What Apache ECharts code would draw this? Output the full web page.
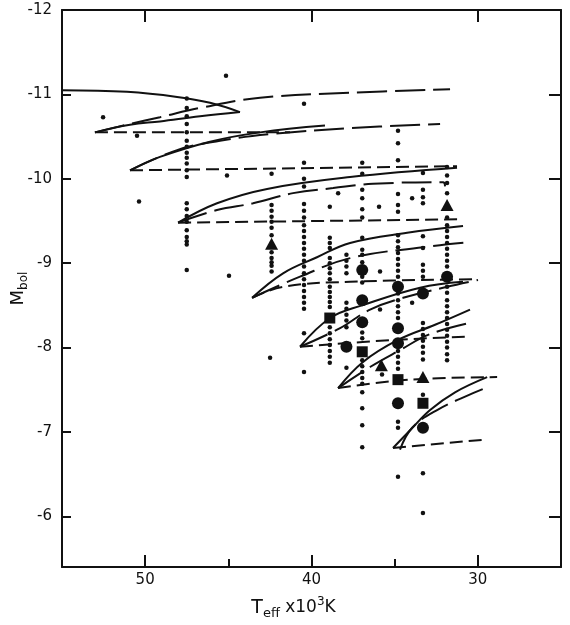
<!DOCTYPE html>
<html><head><meta charset="utf-8">
<script src="https://cdn.jsdelivr.net/npm/echarts@6/dist/echarts.min.js"></script>
<style>html,body{margin:0;padding:0;background:#fff}#c{width:570px;height:625px}</style>
</head><body><div id="c"></div>
<script>
// ---- axis ticks ----
const xMajorTicks = [30, 40, 50];
const xMinorTicks = [35, 45];
const yTicks = [-12, -11, -10, -9, -8, -7, -6];

// ---- evolutionary tracks [Teff (10^3 K), Mbol] ----
const track1SolidUpper = [[55.0,-11.05],[51.09,-11.03],[48.08,-10.97],[46.10,-10.90],[44.30,-10.79]];
const track1SolidLower = [[44.30,-10.79],[46.70,-10.74],[49.11,-10.68],[50.91,-10.64],[53.02,-10.55]];
const track1Long = [[53.02,-10.55],[50.91,-10.65],[49.11,-10.73],[46.70,-10.84],[43.09,-10.96],[37.68,-11.02],[31.67,-11.06]];
const track1Short = [[53.02,-10.55],[41.29,-10.55]];

const track2Solid = [[50.91,-10.10],[49.11,-10.26],[46.10,-10.44],[43.09,-10.55],[39.19,-10.63]];
const track2Long = [[50.91,-10.10],[48.08,-10.34],[45.50,-10.45],[42.49,-10.53],[37.68,-10.60],[32.27,-10.65]];
const track2Short = [[50.91,-10.10],[31.25,-10.15]];

const track3Solid = [[48.02,-9.48],[45.68,-9.71],[42.67,-9.88],[37.68,-10.02],[31.25,-10.13]];
const track3Long = [[48.02,-9.48],[45.68,-9.63],[43.51,-9.71],[41.11,-9.83],[38.70,-9.89],[36.30,-9.94],[32.09,-9.96],[31.97,-9.91]];
const track3Short = [[48.02,-9.48],[30.95,-9.52]];

const track4Solid = [[43.57,-8.59],[41.71,-8.88],[39.67,-9.07],[37.68,-9.24],[34.25,-9.36],[30.89,-9.44]];
const track4Long = [[43.57,-8.59],[40.69,-8.84],[37.68,-9.06],[33.29,-9.19],[30.47,-9.25]];
const track4Short = [[43.57,-8.59],[41.71,-8.72],[37.68,-8.78],[30.05,-8.81]];

const track5Solid = [[40.69,-8.01],[38.88,-8.35],[36.96,-8.50],[33.47,-8.71],[30.89,-8.78]];
const track5Long = [[40.69,-8.01],[38.28,-8.23],[36.48,-8.45],[34.49,-8.59],[31.85,-8.72],[29.99,-8.80]];
const track5Short = [[40.69,-8.01],[35.10,-8.09],[30.47,-8.13]];

const track6Solid = [[38.40,-7.52],[36.90,-7.83],[34.80,-8.09],[32.57,-8.27],[30.47,-8.45]];
const track6Long = [[38.40,-7.52],[36.48,-7.77],[34.68,-7.97],[32.87,-8.16],[30.29,-8.30]];
const track6Short = [[38.40,-7.52],[34.07,-7.62],[28.84,-7.65]];

const track7Solid = [[35.10,-6.81],[34.07,-7.02],[32.87,-7.26],[31.37,-7.47],[29.44,-7.65]];
const track7Long = [[34.68,-6.79],[33.95,-7.05],[32.45,-7.26],[30.29,-7.46],[29.56,-7.52]];
const track7Short = [[35.10,-6.81],[29.56,-6.91]];

// ---- small dots: columns at fixed Teff ----
const colTeff = [47.5, 42.4, 40.45, 38.9, 37.9, 36.95, 34.8, 33.3, 31.85];
const colA = [-10.95,-10.84,-10.74,-10.65,-10.55,-10.45,-10.38,-10.31,-10.25,-10.18,-10.10,-10.02,-9.71,-9.64,-9.56,-9.49,-9.39,-9.31,-9.26,-9.22,-8.92];
const colB = [-10.06,-9.69,-9.62,-9.55,-9.49,-9.42,-9.33,-9.13,-9.06,-9.01,-8.97,-8.90];
const colC = [-10.89,-10.19,-10.00,-9.91,-9.70,-9.62,-9.54,-9.45,-9.38,-9.31,-9.24,-9.17,-9.10,-9.03,-8.96,-8.88,-8.81,-8.74,-8.67,-8.60,-8.53,-8.46,-8.17,-7.71];
const colD = [-9.67,-9.30,-9.24,-9.18,-9.06,-9.00,-8.94,-8.88,-8.81,-8.72,-8.66,-8.60,-8.54,-8.48,-8.24,-8.17,-8.10,-8.03,-7.96,-7.89,-7.82];
const colE = [-9.10,-9.03,-8.96,-8.88,-8.53,-8.46,-8.39,-8.32,-8.24,-7.76];
const colF = [-10.19,-10.06,-9.87,-9.77,-9.64,-9.54,-9.30,-9.16,-9.10,-9.01,-8.84,-8.77,-8.18,-8.11,-7.85,-7.78,-7.71,-7.64,-7.57,-7.47,-7.28,-7.08,-6.82];
const colG = [-10.57,-10.42,-10.22,-9.82,-9.69,-9.61,-9.33,-9.26,-9.19,-9.12,-9.05,-8.98,-8.91,-8.84,-8.64,-8.56,-8.49,-8.42,-8.35,-7.96,-7.89,-7.82,-7.75,-7.12,-7.05,-6.47];
const colH = [-10.07,-9.87,-9.78,-9.71,-9.32,-9.18,-8.98,-8.91,-8.84,-8.29,-8.22,-8.15,-8.08,-8.01,-7.94,-7.86,-7.44,-6.51,-6.04];
const colI = [-10.14,-10.04,-9.95,-9.83,-9.54,-9.45,-9.38,-9.31,-9.24,-9.17,-9.10,-9.03,-8.96,-8.72,-8.65,-8.56,-8.49,-8.42,-8.35,-8.28,-8.21,-8.14,-8.07,-8.00,-7.92,-7.85];
const looseDots = [[52.53,-10.73],[50.49,-10.51],[45.14,-11.22],[45.08,-10.04],[50.37,-9.73],[44.96,-8.85],[42.49,-7.88],[35.94,-9.67],[33.95,-9.77],[35.88,-8.90],[35.88,-8.45],[33.95,-8.53],[35.76,-7.68],[38.4,-9.83]];

// ---- large symbols ----
const circles = [[36.95,-8.92],[31.85,-8.84],[34.8,-8.72],[33.3,-8.64],[36.95,-8.56],[36.95,-8.30],[34.8,-8.23],[37.9,-8.01],[34.8,-8.05],[34.8,-7.34],[33.3,-7.05]];
const squares = [[38.9,-8.35],[36.95,-7.95],[34.8,-7.62],[33.3,-7.34]];
const triangles = [[42.4,-9.23],[31.85,-9.69],[35.8,-7.79],[33.3,-7.65]];

// ---- build ----
const INK = '#111111';
const LONG = [30, 8];
const SHORT = [13, 6];
function line(data, type, smooth) {
  return {
    type: 'line', data: data, showSymbol: false, symbol: 'none', silent: true,
    smooth: smooth === undefined ? 0.4 : smooth, animation: false, z: 2,
    lineStyle: { color: INK, width: 2, type: type, opacity: 1 }
  };
}
function scatter(data, symbol, size, z) {
  return { type: 'scatter', data: data, symbol: symbol, symbolSize: size,
    itemStyle: { color: INK, opacity: 1 }, z: z, animation: false, silent: true };
}
const cols = [colA, colB, colC, colD, colE, colF, colG, colH, colI];
const dots = [];
cols.forEach((c, i) => c.forEach(m => dots.push([colTeff[i], m])));
looseDots.forEach(p => dots.push(p));

const series = [
  line(track1SolidUpper, 'solid'), line(track1SolidLower, 'solid'), line(track1Long, LONG), line(track1Short, SHORT, false),
  line(track2Solid, 'solid'), line(track2Long, LONG), line(track2Short, SHORT, false),
  line(track3Solid, 'solid'), line(track3Long, LONG), line(track3Short, SHORT, false),
  line(track4Solid, 'solid'), line(track4Long, LONG), line(track4Short, SHORT),
  line(track5Solid, 'solid'), line(track5Long, LONG), line(track5Short, SHORT),
  line(track6Solid, 'solid'), line(track6Long, LONG), line(track6Short, SHORT),
  line(track7Solid, 'solid'), line(track7Long, LONG), line(track7Short, SHORT, false),
  scatter(dots, 'circle', 4.5, 3),
  scatter(circles, 'circle', 12, 4),
  scatter(squares, 'rect', 11, 4),
  scatter(triangles, 'triangle', [13, 12], 4)
];

const font = 'DejaVu Sans';
const axisLine = { show: true, onZero: false, lineStyle: { color: INK, width: 2 } };
const chart = echarts.init(document.getElementById('c'), null, { renderer: 'canvas' });
chart.setOption({
  backgroundColor: '#ffffff',
  animation: false,
  grid: { left: 62, right: 9, top: 10, bottom: 58, containLabel: false, outerBoundsMode: 'none' },
  xAxis: [
    { type: 'value', position: 'bottom', min: 25, max: 55, inverse: true,
      axisLine: axisLine, splitLine: { show: false },
      axisTick: { show: true, inside: true, length: 12, customValues: xMajorTicks, lineStyle: { color: INK, width: 2 } },
      axisLabel: { customValues: xMajorTicks, margin: 6, fontSize: 15, color: INK, fontFamily: font },
      name: '{t|T}{s|eff}{n| x10}{p|3}{n|K}', nameLocation: 'middle', nameGap: 29,
      nameTextStyle: { color: INK, fontFamily: font, padding: [0, 36, 0, 0], rich: {
        t: { fontSize: 19, fontFamily: font, color: INK, lineHeight: 24, verticalAlign: 'middle' },
        s: { fontSize: 13, fontFamily: font, color: INK, lineHeight: 24, verticalAlign: 'bottom' },
        n: { fontSize: 17, fontFamily: font, color: INK, lineHeight: 24, verticalAlign: 'middle' },
        p: { fontSize: 12, fontFamily: font, color: INK, lineHeight: 24, verticalAlign: 'top' }
      } } },
    { type: 'value', position: 'bottom', min: 25, max: 55, inverse: true,
      axisLine: { show: false }, splitLine: { show: false }, axisLabel: { show: false },
      axisTick: { show: true, inside: true, length: 8, customValues: xMinorTicks, lineStyle: { color: INK, width: 2 } } },
    { type: 'value', position: 'top', min: 25, max: 55, inverse: true,
      axisLine: axisLine, splitLine: { show: false }, axisLabel: { show: false },
      axisTick: { show: true, inside: true, length: 12, customValues: xMajorTicks, lineStyle: { color: INK, width: 2 } } }
  ],
  yAxis: [
    { type: 'value', position: 'left', min: -12, max: -5.4, inverse: true,
      axisLine: axisLine, splitLine: { show: false },
      axisTick: { show: true, inside: true, length: 9, customValues: yTicks, lineStyle: { color: INK, width: 2 } },
      axisLabel: { customValues: yTicks, margin: 10, fontSize: 15, color: INK, fontFamily: font },
      name: '{m|M}{s|bol}', nameLocation: 'middle', nameGap: 32, nameRotate: 90, nameMoveOverlap: false,
      nameTextStyle: { color: INK, fontFamily: font, rich: {
        m: { fontSize: 18, fontFamily: font, color: INK, lineHeight: 24, verticalAlign: 'middle' },
        s: { fontSize: 12, fontFamily: font, color: INK, lineHeight: 24, verticalAlign: 'bottom' }
      } } },
    { type: 'value', position: 'right', min: -12, max: -5.4, inverse: true,
      axisLine: axisLine, splitLine: { show: false }, axisLabel: { show: false },
      axisTick: { show: true, inside: true, length: 12, customValues: yTicks, lineStyle: { color: INK, width: 2 } } }
  ],
  series: series
});
</script></body></html>
